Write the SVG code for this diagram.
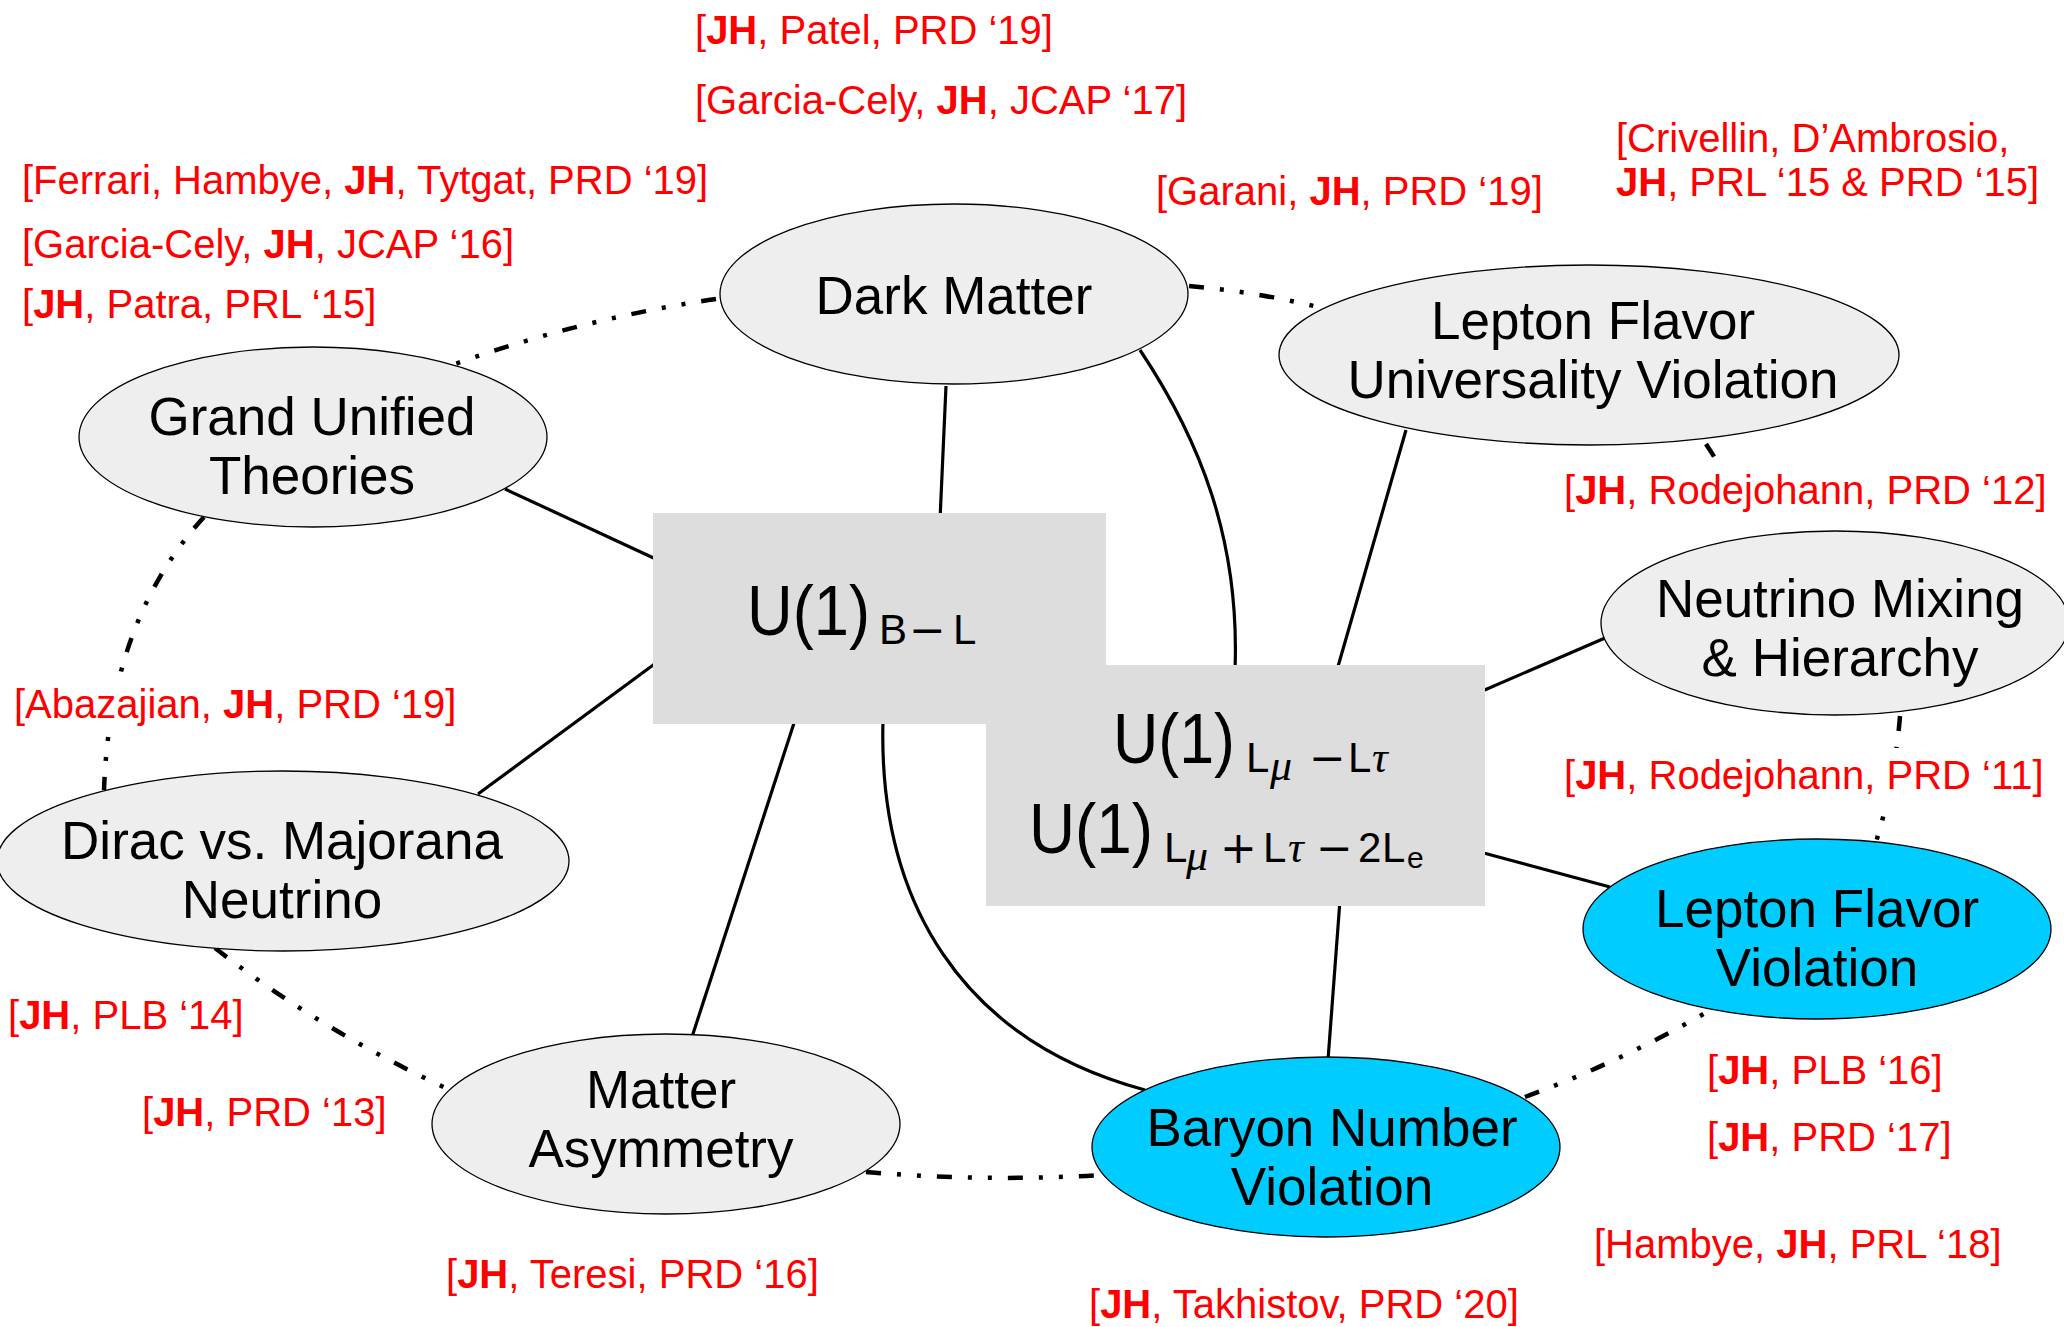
<svg xmlns="http://www.w3.org/2000/svg" width="2064" height="1327" viewBox="0 0 2064 1327">
  <style>
    .link { fill: none; stroke: #000; stroke-width: 3.2; }
    .loose { fill: none; stroke: #000; stroke-width: 4.5; stroke-dasharray: 15 16 4 16 4 16; }
    .topic { fill: #eeeeee; stroke: #000; stroke-width: 1.3; }
    .hot { fill: #00ccff; stroke: #000; stroke-width: 1.3; }
    .group { fill: #dddddd; }
    .name { font-family: "Liberation Sans", Arial, sans-serif; font-size: 53px; fill: #000; text-anchor: middle; }
    .ref { font-family: "Liberation Sans", Arial, sans-serif; font-size: 40px; fill: #ff0000; }
    .ref tspan.me { font-weight: bold; }
    .plate { fill: #ffffff; }
    .m { font-family: "Liberation Sans", Arial, sans-serif; fill: #000; }
    .big { font-size: 70px; }
    .sub { font-size: 42px; }
    .subsub { font-size: 30px; }
    .op { font-family: "DejaVu Sans", sans-serif; font-size: 44px; fill: #000; }
    .gr { font-family: "Liberation Serif", "Times New Roman", serif; font-style: italic; font-size: 44px; fill: #000; }
  </style>

  <rect width="2064" height="1327" fill="#ffffff"/>

  <!-- connectors -->
  <g id="connectors">
    <!-- solid: gauge groups to topics -->
    <path class="link" d="M946,386 L940,520"/>
    <path class="link" d="M1140,350 C1200,440 1240,540 1235,670"/>
    <path class="link" d="M1406,430 L1337,670"/>
    <path class="link" d="M1605,638 L1480,692"/>
    <path class="link" d="M1480,852 L1610,887"/>
    <path class="link" d="M1340,900 L1328,1060"/>
    <path class="link" d="M883,720 C878,900 960,1040 1145,1090"/>
    <path class="link" d="M795,720 L691,1040"/>
    <path class="link" d="M660,660 L478,794"/>
    <path class="link" d="M505,489 L660,561"/>
    <!-- dash-dot: links between topics -->
    <path class="loose" d="M716,299 Q585,318 455,364"/>
    <path class="loose" d="M1189,286 Q1260,292 1330,310"/>
    <path class="loose" d="M204,517 Q110,620 104,790"/>
    <path class="loose" d="M215,948 Q320,1030 450,1090"/>
    <path class="loose" d="M866,1172 Q985,1182 1102,1175"/>
    <path class="loose" d="M1525,1097 Q1620,1062 1707,1012"/>
    <path class="loose" d="M1706,444 L1745,505"/>
    <path class="loose" d="M1900,716 Q1895,780 1876,842"/>
  </g>

  <!-- gauge group boxes -->
  <g id="node-u1-bl">
    <rect class="group" x="653" y="513" width="453" height="211"/>
  </g>
  <g id="node-u1-lmu">
    <rect class="group" x="986" y="665" width="499" height="241"/>
  </g>
  <g id="node-u1-bl-label">
    <text class="m big" x="747" y="635" textLength="123" lengthAdjust="spacingAndGlyphs">U(1)</text>
    <text class="m sub" x="879" y="644">B</text>
    <text class="op" x="909" y="645">−</text>
    <text class="m sub" x="953" y="644">L</text>
  </g>
  <g id="node-u1-lmu-label">
    <text class="m big" x="1113" y="763" textLength="122" lengthAdjust="spacingAndGlyphs">U(1)</text>
    <text class="m sub" x="1246" y="772">L</text>
    <text class="gr" x="1270" y="780">μ</text>
    <text class="op" x="1309" y="773">−</text>
    <text class="m sub" x="1348" y="772">L</text>
    <text class="gr" x="1372" y="772">τ</text>

    <text class="m big" x="1029" y="853" textLength="124" lengthAdjust="spacingAndGlyphs">U(1)</text>
    <text class="m sub" x="1164" y="862">L</text>
    <text class="gr" x="1186" y="870">μ</text>
    <text class="op" x="1220" y="863">+</text>
    <text class="m sub" x="1263" y="862">L</text>
    <text class="gr" x="1288" y="862">τ</text>
    <text class="op" x="1316" y="863">−</text>
    <text class="m sub" x="1358" y="862">2</text>
    <text class="m sub" x="1382" y="862">L</text>
    <text class="m subsub" x="1407" y="868">e</text>
  </g>

  <!-- topics -->
  <g id="node-dark-matter">
    <ellipse class="topic" cx="954" cy="294" rx="234" ry="90"/>
    <text class="name" x="954" y="314">Dark Matter</text>
  </g>
  <g id="node-gut">
    <ellipse class="topic" cx="313" cy="437" rx="234" ry="90"/>
    <text class="name" x="312" y="435">Grand Unified</text>
    <text class="name" x="312" y="494">Theories</text>
  </g>
  <g id="node-lfuv">
    <ellipse class="topic" cx="1589" cy="355" rx="310" ry="90"/>
    <text class="name" x="1593" y="339">Lepton Flavor</text>
    <text class="name" x="1593" y="398">Universality Violation</text>
  </g>
  <g id="node-nu-mixing">
    <ellipse class="topic" cx="1835" cy="623" rx="234" ry="92"/>
    <text class="name" x="1840" y="617">Neutrino Mixing</text>
    <text class="name" x="1840" y="676">&amp; Hierarchy</text>
  </g>
  <g id="node-dirac">
    <ellipse class="topic" cx="283" cy="861" rx="286" ry="90"/>
    <text class="name" x="282" y="859">Dirac vs. Majorana</text>
    <text class="name" x="282" y="918">Neutrino</text>
  </g>
  <g id="node-matter-asym">
    <ellipse class="topic" cx="666" cy="1124" rx="234" ry="90"/>
    <text class="name" x="661" y="1108">Matter</text>
    <text class="name" x="661" y="1167">Asymmetry</text>
  </g>
  <g id="node-bnv">
    <ellipse class="hot" cx="1326" cy="1147" rx="234" ry="90"/>
    <text class="name" x="1332" y="1146">Baryon Number</text>
    <text class="name" x="1332" y="1205">Violation</text>
  </g>
  <g id="node-lfv">
    <ellipse class="hot" cx="1817" cy="929" rx="234" ry="90"/>
    <text class="name" x="1817" y="927">Lepton Flavor</text>
    <text class="name" x="1817" y="986">Violation</text>
  </g>

  <!-- references -->
  <g id="citations">
    <rect class="plate" x="1556" y="462" width="500" height="56"/>
    <rect class="plate" x="1556" y="748" width="500" height="56"/>
    <rect class="plate" x="8" y="678" width="460" height="58"/>

    <text class="ref" x="695" y="44">[<tspan class="me">JH</tspan>, Patel, PRD ‘19]</text>
    <text class="ref" x="695" y="114">[Garcia-Cely, <tspan class="me">JH</tspan>, JCAP ‘17]</text>
    <text class="ref" x="22" y="194">[Ferrari, Hambye, <tspan class="me">JH</tspan>, Tytgat, PRD ‘19]</text>
    <text class="ref" x="22" y="258">[Garcia-Cely, <tspan class="me">JH</tspan>, JCAP ‘16]</text>
    <text class="ref" x="22" y="318">[<tspan class="me">JH</tspan>, Patra, PRL ‘15]</text>
    <text class="ref" x="1156" y="205">[Garani, <tspan class="me">JH</tspan>, PRD ‘19]</text>
    <text class="ref" x="1616" y="152">[Crivellin, D’Ambrosio,</text>
    <text class="ref" x="1616" y="196"><tspan class="me">JH</tspan>, PRL ‘15 &amp; PRD ‘15]</text>
    <text class="ref" x="1564" y="504">[<tspan class="me">JH</tspan>, Rodejohann, PRD ‘12]</text>
    <text class="ref" x="1564" y="789">[<tspan class="me">JH</tspan>, Rodejohann, PRD ‘11]</text>
    <text class="ref" x="14" y="718">[Abazajian, <tspan class="me">JH</tspan>, PRD ‘19]</text>
    <text class="ref" x="8" y="1029">[<tspan class="me">JH</tspan>, PLB ‘14]</text>
    <text class="ref" x="142" y="1126">[<tspan class="me">JH</tspan>, PRD ‘13]</text>
    <text class="ref" x="446" y="1288">[<tspan class="me">JH</tspan>, Teresi, PRD ‘16]</text>
    <text class="ref" x="1089" y="1318">[<tspan class="me">JH</tspan>, Takhistov, PRD ‘20]</text>
    <text class="ref" x="1707" y="1084">[<tspan class="me">JH</tspan>, PLB ‘16]</text>
    <text class="ref" x="1707" y="1151">[<tspan class="me">JH</tspan>, PRD ‘17]</text>
    <text class="ref" x="1594" y="1258">[Hambye, <tspan class="me">JH</tspan>, PRL ‘18]</text>
  </g>
</svg>
